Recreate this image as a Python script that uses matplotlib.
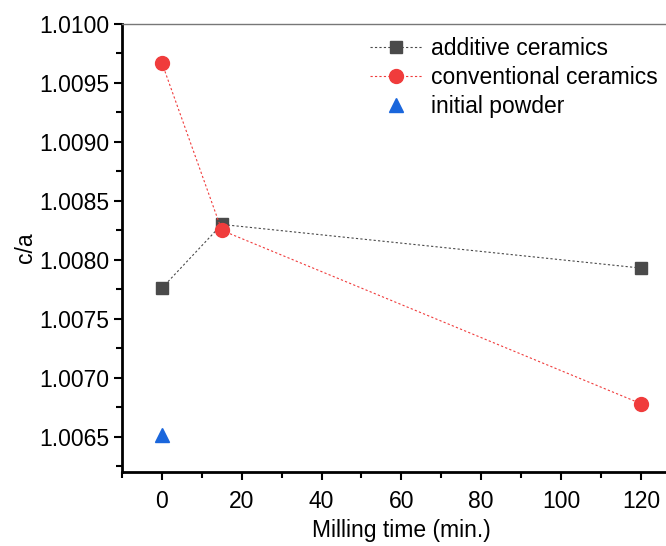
import matplotlib
matplotlib.use("Agg")
import matplotlib.pyplot as plt
from matplotlib.ticker import MultipleLocator, FormatStrFormatter

plt.rcParams['font.family'] = ['Liberation Sans', 'DejaVu Sans']

# milling time (min.) and c/a values
time_additive = [0, 15, 120]
ca_additive = [1.00776, 1.00830, 1.00793]
time_conventional = [0, 15, 120]
ca_conventional = [1.00967, 1.00825, 1.00678]
time_powder = [0]
ca_powder = [1.00651]

fs = 16.5

fig = plt.figure(figsize=(6.66, 5.46), dpi=100)
# axes run past the right edge like the cropped original
ax = fig.add_axes([0.1832, 0.1355, 0.839, 0.8205])

ax.plot(time_additive, ca_additive, color="#4a4a4a", ls=(0, (2, 2)), lw=0.8,
        marker="s", ms=9, mfc="#4a4a4a", mec="#4a4a4a", label="additive ceramics")
ax.plot(time_conventional, ca_conventional, color="#f03c3c", ls=(0, (2, 2)), lw=0.8,
        marker="o", ms=10, mfc="#f03c3c", mec="#f03c3c", label="conventional ceramics")
ax.plot(time_powder, ca_powder, ls="none", marker="^", ms=10,
        mfc="#1a66dc", mec="#1a66dc", label="initial powder")

ax.set_xlim(-10, 130)
ax.set_ylim(1.0062, 1.0100)
ax.xaxis.set_major_locator(MultipleLocator(20))
ax.xaxis.set_minor_locator(MultipleLocator(10))
ax.yaxis.set_major_locator(MultipleLocator(0.0005))
ax.yaxis.set_minor_locator(MultipleLocator(0.00025))
ax.yaxis.set_major_formatter(FormatStrFormatter("%.4f"))

ax.tick_params(which="both", direction="out", width=1.5, labelsize=fs, colors="black")
ax.tick_params(which="major", length=6)
ax.tick_params(which="minor", length=4)
ax.tick_params(axis="x", which="major", pad=7)
ax.tick_params(axis="y", which="major", pad=3)

for side in ("left", "bottom"):
    ax.spines[side].set_linewidth(2)
    ax.spines[side].set_color("black")
ax.spines["top"].set_linewidth(1)
ax.spines["top"].set_color("#777777")
ax.spines["right"].set_linewidth(1)
ax.spines["right"].set_color("#777777")

ax.set_xlabel("Milling time (min.)", fontsize=fs, labelpad=4)
ax.set_ylabel("c/a", fontsize=fs, labelpad=2)

fig.legend(loc="upper left", bbox_to_anchor=(370 / 666, 1 - 37 / 546), frameon=False,
           fontsize=fs, handlelength=2.3, handletextpad=0.35, labelspacing=0.27,
           borderpad=0, borderaxespad=0)

fig.savefig("out.png", dpi=100)
